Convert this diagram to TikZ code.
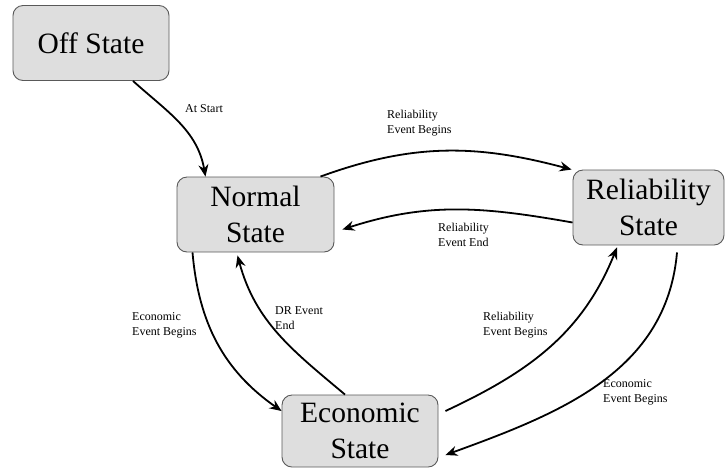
\documentclass[tikz,border=0pt]{standalone}
\usepackage{fontspec}
\setmainfont{Liberation Serif}
\usetikzlibrary{arrows.meta}
\begin{document}
\begin{tikzpicture}[x=1pt,y=-1pt,
  statebox/.style={draw=black!65, fill=black!13, line width=0.9pt, rounded corners=10pt,
    minimum width=156pt, minimum height=75pt, align=center, inner sep=0pt,
    font=\fontsize{29.5}{36}\selectfont},
  lbl/.style={anchor=west, align=left, inner sep=0pt, font=\fontsize{12}{15}\selectfont},
  conn/.style={line width=1.8pt, -{Stealth[length=12pt,width=10pt,inset=4pt]}}]
\useasboundingbox (0,0) rectangle (727,467);
\node[statebox] (off) at (91,43) {Off State};
\node[statebox, minimum width=157pt] (normal) at (255.5,214.5) {Normal\\State};
\node[statebox, minimum width=151pt] (rel) at (648.5,207.5) {Reliability\\State};
\node[statebox, minimum height=72pt] (eco) at (360,431) {Economic\\State};

\draw[conn] ([xshift=42pt]off.south) to[out=-42,in=100] ([xshift=-50pt]normal.north);
\draw[conn] ([xshift=65pt]normal.north) to[out=20,in=165] ([xshift=-1pt]rel.north west);
\draw[conn] ([yshift=-15pt]rel.west) to[out=170,in=18] ([xshift=8pt,yshift=-15pt]normal.east);
\draw[conn] ([xshift=-63pt]normal.south) to[out=-85,in=145] ([yshift=20pt]eco.west);
\draw[conn] ([xshift=-15pt]eco.north) to[out=140,in=-75] ([xshift=-18pt,yshift=-3pt]normal.south);
\draw[conn] ([xshift=7pt,yshift=20pt]eco.east) to[out=25,in=-112] ([xshift=-31.5pt,yshift=-2pt]rel.south);
\draw[conn] ([xshift=28.5pt,yshift=-7pt]rel.south) to[out=-95,in=20] ([xshift=7pt,yshift=-24pt]eco.east);

\node[lbl] (l1) at (185,109) {At Start};
\node[lbl] (l2) at (387,123) {Reliability\\Event Begins};
\node[lbl] (l3) at (438,235) {Reliability\\Event End};
\node[lbl] (l4) at (132,325) {Economic\\Event Begins};
\node[lbl] (l5) at (275,318) {DR Event\\End};
\node[lbl] (l6) at (483,325) {Reliability\\Event Begins};
\node[lbl] (l7) at (603,392) {Economic\\Event Begins};
\end{tikzpicture}
\end{document}
